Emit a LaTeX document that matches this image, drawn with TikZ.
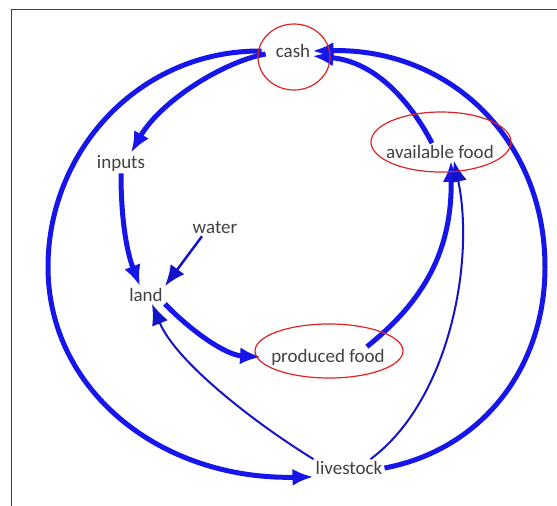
\documentclass[tikz,border=0pt]{standalone}
\usepackage{fontspec}
\setmainfont{Carlito}
\usetikzlibrary{arrows.meta}
\definecolor{flowblue}{RGB}{22,22,235}
\definecolor{ink}{RGB}{64,64,64}
\definecolor{ringred}{RGB}{225,35,35}
\tikzset{
  >={Latex[length=21pt,width=17pt]},
}
\tikzstyle{every node}=[font=\fontsize{19}{22}\selectfont,text=ink,inner sep=2pt]
\tikzstyle{strong}=[line width=5pt,->,flowblue]
\tikzstyle{medium}=[line width=2.5pt,->,flowblue!85!black]
\tikzstyle{weak}=[line width=2pt,->,flowblue!85!black]
\tikzstyle{ring}=[line width=1.2pt,ringred]

\begin{document}
\begin{tikzpicture}[x=1pt,y=-1pt]
    \useasboundingbox (0,0) rectangle (557,506);
    \draw[ink,line width=1pt] (11,506)--(11,9)--(557,9);
    \node (cash) at (293,51) {cash};
    \node (inputs) at (121,163) {inputs};
    \node (water) at (215,228) {water};
    \node (land) at (146,295) {land};
    \node (produced) at (328,357) {produced food};
    \node (avail) at (440,152) {available food};
    \node (livestock) at (349,468) {livestock};
    % outer loops
    \draw[strong] ([xshift=-12pt]cash.west) ..controls (140,50) and (48,150).. (48,267)
    ..controls (48,390) and (160,480).. (livestock.south west);
    \draw[strong] (livestock.east) ..controls (480,450) and (545,370).. (545,267)
    ..controls (545,140) and (450,48).. (cash.east);
    % inner flows
    \draw[strong] ([xshift=-8pt,yshift=-3pt]cash.west) ..controls (222,62) and (160,102).. ([xshift=10pt]inputs.north);
    \draw[strong] (inputs.south) ..controls (121,225) and (128,255).. ([xshift=-6pt]land.north);
    \draw[medium] ([xshift=-13pt]water.south) -- (land.north east);
    \draw[strong] (land.south east) ..controls (190,330) and (225,355).. ([xshift=-8pt]produced.west);
    \draw[strong] ([xshift=-20pt]produced.north east) ..controls (425,300) and (452,250).. ([xshift=11pt]avail.south);
    \draw[strong] ([xshift=-8pt]avail.north) ..controls (415,110) and (380,62).. ([yshift=-5pt]cash.east);
    \draw[weak] ([xshift=-14pt]livestock.north east) ..controls (450,400) and (475,260).. ([xshift=14pt]avail.south);
    \draw[weak] (livestock.north west) ..controls (250,420) and (175,360).. ([xshift=6pt]land.south);
    % red rings
    \draw[ring] (cash) ++(1,6) ellipse [x radius=36,y radius=33];
    \draw[ring] (avail) ++(1,-10) ellipse [x radius=70,y radius=30];
    \draw[ring] (produced) ++(1,-6) ellipse [x radius=74,y radius=27];
\end{tikzpicture}
\end{document}
